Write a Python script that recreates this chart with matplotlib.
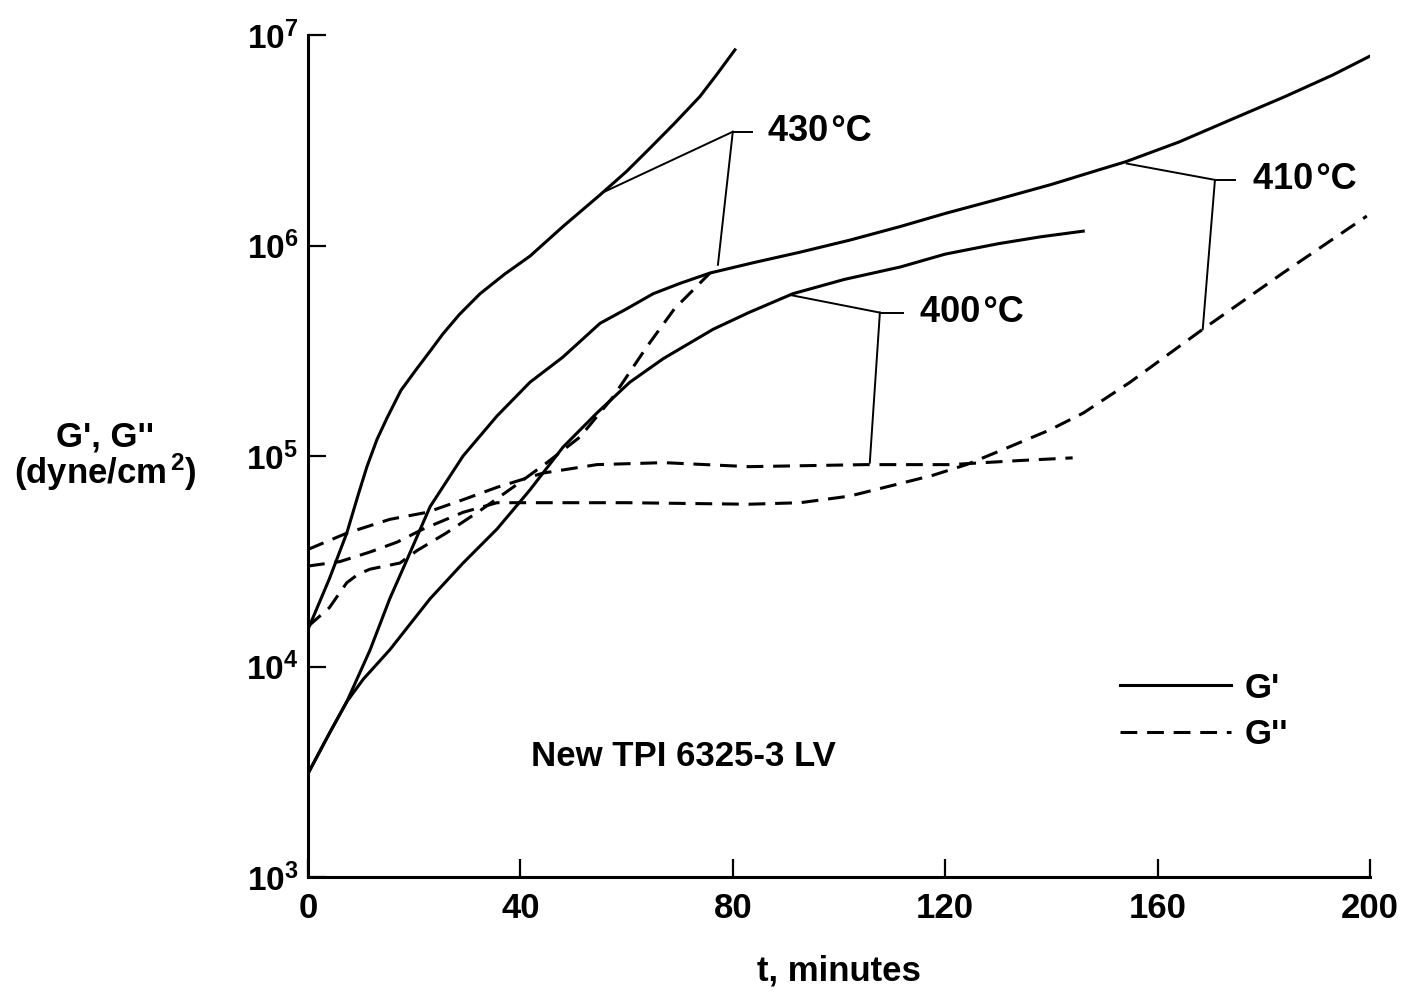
import matplotlib
matplotlib.use("Agg")
import matplotlib.pyplot as plt

plt.rcParams['font.family'] = ['Liberation Sans', 'DejaVu Sans']
plt.rcParams['font.weight'] = 'bold'
plt.rcParams['mathtext.fontset'] = 'custom'
plt.rcParams['mathtext.rm'] = 'Liberation Sans:bold'
plt.rcParams['mathtext.it'] = 'Liberation Sans:bold'
plt.rcParams['mathtext.bf'] = 'Liberation Sans:bold'

# G' (storage modulus), dyne/cm^2 vs t (minutes)
t_430_gp = [0, 4, 7.3, 9.5, 11.1, 13, 14.9, 17.5, 20.5, 23, 25.4, 28.5, 32.4, 37,
            41.8, 48, 55, 60, 64.4, 69, 73.8, 77, 80.4]
gp_430 = [1.5e4, 2.6e4, 4.3e4, 6.6e4, 8.9e4, 1.2e5, 1.52e5, 2.05e5, 2.6e5, 3.15e5,
          3.8e5, 4.7e5, 5.9e5, 7.3e5, 8.9e5, 1.23e6, 1.74e6, 2.25e6, 2.9e6,
          3.8e6, 5.1e6, 6.5e6, 8.5e6]

t_410_gp = [0, 4, 7.3, 11.7, 15.4, 18.6, 23, 29.2, 35.6, 41.8, 48, 55, 60, 65, 70,
            75.7, 84, 92.7, 102, 111.5, 120, 130, 140, 149, 154, 164, 174, 184,
            193, 200]
gp_410 = [3.1e3, 4.8e3, 6.8e3, 1.2e4, 2.1e4, 3.2e4, 5.75e4, 1.0e5, 1.55e5, 2.24e5,
          2.95e5, 4.27e5, 5.0e5, 5.9e5, 6.6e5, 7.4e5, 8.3e5, 9.3e5, 1.06e6,
          1.23e6, 1.42e6, 1.66e6, 1.95e6, 2.29e6, 2.5e6, 3.1e6, 3.98e6, 5.1e6,
          6.46e6, 7.94e6]

t_400_gp = [0, 4, 7.3, 10.4, 15.4, 23, 29.2, 35.6, 41.8, 48, 54.4, 60.6, 66.9, 76.3,
            83, 91.3, 101, 111.5, 120, 130, 138, 146]
gp_400 = [3.1e3, 4.8e3, 6.8e3, 8.7e3, 1.2e4, 2.1e4, 3.1e4, 4.5e4, 6.9e4, 1.1e5,
          1.6e5, 2.24e5, 2.9e5, 4.0e5, 4.8e5, 5.9e5, 6.9e5, 7.9e5, 9.1e5, 1.02e6,
          1.1e6, 1.17e6]

# G'' (loss modulus)
t_430_gpp = [0, 4, 7.3, 9.5, 11.7, 14.5, 17.3, 20.5, 26, 32.4, 38.6, 45, 51.2, 57.4,
             63.8, 69, 75.7]
gpp_430 = [1.55e4, 1.9e4, 2.5e4, 2.75e4, 2.9e4, 3.0e4, 3.1e4, 3.55e4, 4.3e4, 5.5e4,
           7.1e4, 9.3e4, 1.23e5, 1.9e5, 3.3e5, 5.0e5, 7.4e5]

t_410_gpp = [0, 6, 11.7, 16.8, 21.7, 29.2, 35.6, 41.8, 60, 83, 92.7, 102, 111.5,
             117.7, 124, 130, 139.7, 146, 154.8, 168.5, 183.6, 199.4]
gpp_410 = [3.0e4, 3.15e4, 3.5e4, 3.9e4, 4.5e4, 5.4e4, 6.0e4, 6.0e4, 6.0e4, 5.9e4,
           6.0e4, 6.45e4, 7.4e4, 8.1e4, 9.1e4, 1.05e5, 1.33e5, 1.6e5, 2.24e5,
           4.0e5, 7.4e5, 1.38e6]

t_400_gpp = [0, 7.3, 15.4, 22.4, 29.2, 35.6, 44.3, 54.4, 67, 83, 105, 121, 133.5, 144]
gpp_400 = [3.6e4, 4.3e4, 5.0e4, 5.4e4, 6.2e4, 7.1e4, 8.3e4, 9.1e4, 9.3e4, 8.9e4,
           9.1e4, 9.1e4, 9.5e4, 9.8e4]

x_ticks = [0, 40, 80, 120, 160, 200]
y_ticks = [1e3, 1e4, 1e5, 1e6, 1e7]
y_tick_labels = [r'$10^{3}$', r'$10^{4}$', r'$10^{5}$', r'$10^{6}$', r'$10^{7}$']

FS = 25
LW = 2.2
DASH = (0, (5.5, 3.2))

fig = plt.figure(figsize=(14.19, 9.92), dpi=100)
ax = fig.add_axes([308 / 1419, 1 - 877 / 992, 1062 / 1419, 842 / 992])

l1, = ax.plot(t_430_gp, gp_430, color='k', lw=LW, label="G'")
l2, = ax.plot(t_430_gpp, gpp_430, color='k', lw=LW, ls=DASH, label="G''")
ax.plot(t_410_gp, gp_410, color='k', lw=LW)
ax.plot(t_410_gpp, gpp_410, color='k', lw=LW, ls=DASH)
ax.plot(t_400_gp, gp_400, color='k', lw=LW)
ax.plot(t_400_gpp, gpp_400, color='k', lw=LW, ls=DASH)

ax.set_yscale('log')
ax.set_xlim(0, 200)
ax.set_ylim(1e3, 1e7)
ax.set_xticks(x_ticks)
ax.set_xticklabels([str(v) for v in x_ticks])
ax.set_yticks(y_ticks)
ax.set_yticklabels(y_tick_labels)
ax.minorticks_off()
ax.tick_params(direction='in', length=13, width=1.6, labelsize=FS)
ax.tick_params(axis='x', pad=11)
ax.tick_params(axis='y', pad=7, labelsize=24)
for s in ['top', 'right']:
    ax.spines[s].set_visible(False)
for s in ['left', 'bottom']:
    ax.spines[s].set_linewidth(2.2)


def bracket(label, corner, tick_end, targets, text_x):
    cx, cy = corner
    ax.plot([cx, tick_end], [cy, cy], color='k', lw=1.4)
    for tx, ty in targets:
        ax.plot([cx, tx], [cy, ty], color='k', lw=1.4)
    ax.text(text_x, cy, label, fontsize=26, fontweight='bold', ha='left', va='center')


bracket("430\u200a°C", (80.0, 3.47e6), 83.6, [(55.4, 1.78e6), (77.2, 8.1e5)], 86.6)
bracket("400\u200a°C", (107.7, 4.8e5), 112.0, [(91.1, 5.8e5), (105.8, 9.3e4)], 115.3)
bracket("410\u200a°C", (170.8, 2.05e6), 174.6, [(154.2, 2.45e6), (168.5, 4.0e5)], 178.0)

ax.text(70.6, 3.73e3, "New TPI 6325-3 LV", fontsize=FS, fontweight='bold',
        ha='center', va='center')

ax.legend(handles=[l1, l2], loc='upper left', bbox_to_anchor=(0.7646, 0.244),
          frameon=False, fontsize=FS, handlelength=3.2, handletextpad=0.4,
          labelspacing=0.38, borderpad=0, borderaxespad=0)

fig.text(105 / 1419, 1 - 457 / 992, "G', G''\n(dyne/cm$^{\\,2}$)", fontsize=FS,
         fontweight='bold', ha='center', va='center', linespacing=0.95)
ax.set_xlabel("t, minutes", fontsize=FS, fontweight='bold', labelpad=21)

fig.savefig("out.png", dpi=100)
